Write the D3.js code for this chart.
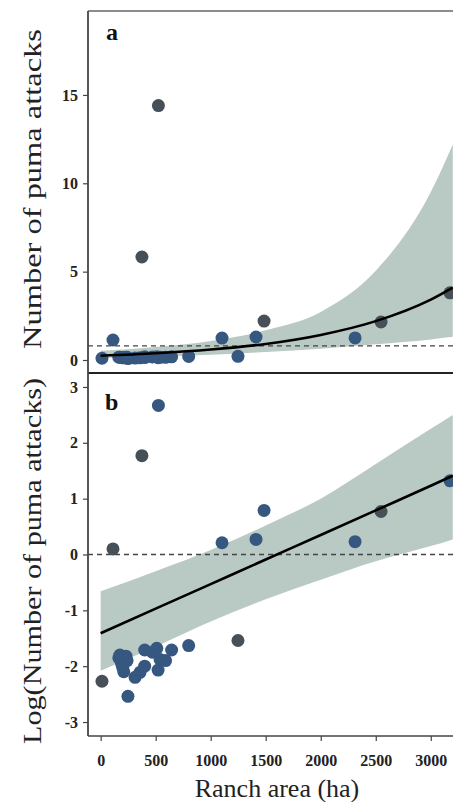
<!DOCTYPE html>
<html>
<head>
<meta charset="utf-8">
<script src="https://cdn.jsdelivr.net/npm/d3@7"></script>
<style>
  body { margin: 0; background: #fff; }
  svg text { font-family: "Liberation Serif", "Times New Roman", Times, serif; }
  .tick text { font-family: "Liberation Serif", "Times New Roman", Times, serif; font-weight: bold; font-size: 16px; fill: #222; }
  .tick line { stroke: #444; stroke-width: 1.2; }
</style>
</head>
<body>
<div id="chart"></div>
<script>
// data --------------------------------------------------------------------------------

// ranch area (ha) of each ranch
var area = [12, 112, 375, 525, 1103, 1412, 1485, 2312, 2548, 3175, 1248, 800, 645, 510, 400,
            540, 522, 400, 358, 313, 248, 165, 190, 210, 175, 230, 200, 240, 470, 590];
// panel a: number of puma attacks
var attacks = [0.10, 1.13, 5.83, 14.4, 1.24, 1.30, 2.20, 1.25, 2.15, 3.80, 0.21, 0.20, 0.18, 0.19, 0.18,
               0.15, 0.13, 0.135, 0.12, 0.11, 0.08, 0.16, 0.14, 0.12, 0.16, 0.16, 0.13, 0.15, 0.17, 0.15];
// panel b: log(number of puma attacks)
var logAttacks = [-2.27, 0.10, 1.77, 2.67, 0.21, 0.27, 0.79, 0.23, 0.77, 1.32, -1.54, -1.63, -1.71, -1.68, -1.71,
                  -1.88, -2.07, -2.00, -2.11, -2.20, -2.54, -1.85, -1.95, -2.10, -1.80, -1.82, -2.02, -1.90, -1.75, -1.90];
// point shade group (0 = blue, 1 = dark grey) in each panel
var groupA = [0, 0, 1, 1, 0, 0, 1, 0, 1, 1, 0, 0, 0, 0, 0, 0, 0, 0, 0, 0, 0, 0, 0, 0, 0, 0, 0, 0, 0, 0];
var groupB = [1, 1, 1, 0, 0, 0, 0, 0, 1, 0, 1, 0, 0, 0, 0, 0, 0, 0, 0, 0, 0, 0, 0, 0, 0, 0, 0, 0, 0, 0];

// fitted model and confidence band
var fitArea = [0, 500, 1000, 1500, 2000, 2500, 3000, 3200];
var fitCount = [0.24, 0.38, 0.59, 0.91, 1.42, 2.20, 3.42, 4.10];
var bandCountLow = [0.125, 0.19, 0.30, 0.45, 0.64, 0.89, 1.16, 1.31];
var bandCountHigh = [0.52, 0.74, 1.08, 1.68, 2.72, 5.05, 9.5, 12.2];
var fitLog = [-1.41, -0.97, -0.53, -0.09, 0.35, 0.79, 1.23, 1.41];
var bandLogLow = [-2.08, -1.65, -1.20, -0.80, -0.45, -0.12, 0.15, 0.27];
var bandLogHigh = [-0.66, -0.30, 0.08, 0.52, 1.00, 1.62, 2.25, 2.50];

var refCount = 0.8;   // dashed reference, panel a
var refLog = 0;       // dashed reference, panel b

var xTicks = [0, 500, 1000, 1500, 2000, 2500, 3000];
var yTicksA = [0, 5, 10, 15];
var yTicksB = [-3, -2, -1, 0, 1, 2, 3];

// layout ------------------------------------------------------------------------------
var width = 453, height = 802;
var left = 88, right = 453;
var topA = 11, bottomA = 373, topB = 373, bottomB = 736;

var svg = d3.select("#chart").append("svg")
  .attr("width", width)
  .attr("height", height);

svg.append("rect").attr("width", width).attr("height", height).attr("fill", "#fff");

var x = d3.scaleLinear().domain([-115, 3202]).range([left, right]);
var yA = d3.scaleLinear().domain([-0.736, 19.75]).range([bottomA, topA]);
var yB = d3.scaleLinear().domain([-3.25, 3.25]).range([bottomB, topB]);

var defs = svg.append("defs");
defs.append("clipPath").attr("id", "clipA").append("rect")
  .attr("x", left).attr("y", topA).attr("width", right - left).attr("height", bottomA - topA);
defs.append("clipPath").attr("id", "clipB").append("rect")
  .attr("x", left).attr("y", topB).attr("width", right - left).attr("height", bottomB - topB);

var blue = "#36577f", dark = "#474f57", bandFill = "#b9c9c4";

function drawPanel(clipId, y, fit, lo, hi, ref, ys, groups) {
  var g = svg.append("g").attr("clip-path", "url(#" + clipId + ")");

  var band = d3.area()
    .x(function(d, i) { return x(fitArea[i]); })
    .y0(function(d, i) { return y(lo[i]); })
    .y1(function(d, i) { return y(hi[i]); })
    .curve(d3.curveMonotoneX);

  g.append("path").datum(fitArea)
    .attr("d", band)
    .attr("fill", bandFill);

  g.append("line")
    .attr("x1", left).attr("x2", right)
    .attr("y1", y(ref)).attr("y2", y(ref))
    .attr("stroke", "#444")
    .attr("stroke-width", 1.3)
    .attr("stroke-dasharray", "5,4");

  g.selectAll("circle.pt")
    .data(area)
    .enter()
    .append("circle")
    .attr("class", "pt")
    .attr("cx", function(d) { return x(d); })
    .attr("cy", function(d, i) { return y(ys[i]); })
    .attr("r", 6.5)
    .attr("fill", function(d, i) { return groups[i] ? dark : blue; });

  var line = d3.line()
    .x(function(d, i) { return x(fitArea[i]); })
    .y(function(d, i) { return y(fit[i]); })
    .curve(d3.curveMonotoneX);

  g.append("path").datum(fitArea)
    .attr("d", line)
    .attr("fill", "none")
    .attr("stroke", "#000")
    .attr("stroke-width", 2.6);
}

drawPanel("clipA", yA, fitCount, bandCountLow, bandCountHigh, refCount, attacks, groupA);
drawPanel("clipB", yB, fitLog, bandLogLow, bandLogHigh, refLog, logAttacks, groupB);

// axes --------------------------------------------------------------------------------
function fmt(d) { return String(d); }

svg.append("g")
  .attr("transform", "translate(" + left + ",0)")
  .call(d3.axisLeft(yA).tickValues(yTicksA).tickSize(5).tickPadding(5).tickFormat(fmt))
  .call(function(g) { g.select(".domain").remove(); });

svg.append("g")
  .attr("transform", "translate(" + left + ",0)")
  .call(d3.axisLeft(yB).tickValues(yTicksB).tickSize(5).tickPadding(5).tickFormat(fmt))
  .call(function(g) { g.select(".domain").remove(); });

svg.append("g")
  .attr("transform", "translate(0," + bottomB + ")")
  .call(d3.axisBottom(x).tickValues(xTicks).tickSize(5).tickPadding(14).tickFormat(fmt))
  .call(function(g) { g.select(".domain").remove(); });

// frame lines
svg.append("line").attr("x1", left).attr("x2", right).attr("y1", topA).attr("y2", topA)
  .attr("stroke", "#666").attr("stroke-width", 1.6);
svg.append("line").attr("x1", left).attr("x2", right).attr("y1", bottomA).attr("y2", bottomA)
  .attr("stroke", "#222").attr("stroke-width", 2);
svg.append("line").attr("x1", left).attr("x2", right).attr("y1", bottomB).attr("y2", bottomB)
  .attr("stroke", "#444").attr("stroke-width", 1.6);
svg.append("line").attr("x1", left).attr("x2", left).attr("y1", topA).attr("y2", bottomB)
  .attr("stroke", "#444").attr("stroke-width", 1.8);

// panel letters
svg.append("text").attr("x", 106).attr("y", 40)
  .attr("font-size", 24).attr("font-weight", "bold").attr("fill", "#111").text("a");
svg.append("text").attr("x", 105).attr("y", 410)
  .attr("font-size", 24).attr("font-weight", "bold").attr("fill", "#111").text("b");

// axis titles
svg.append("text")
  .attr("transform", "translate(41,189) rotate(-90)")
  .attr("text-anchor", "middle")
  .attr("font-size", 26)
  .attr("fill", "#222")
  .attr("textLength", 320)
  .attr("lengthAdjust", "spacingAndGlyphs")
  .text("Number of puma attacks");

svg.append("text")
  .attr("transform", "translate(41,561) rotate(-90)")
  .attr("text-anchor", "middle")
  .attr("font-size", 26)
  .attr("fill", "#222")
  .attr("textLength", 366)
  .attr("lengthAdjust", "spacingAndGlyphs")
  .text("Log(Number of puma attacks)");

svg.append("text")
  .attr("x", 277).attr("y", 797)
  .attr("text-anchor", "middle")
  .attr("font-size", 26)
  .attr("fill", "#222")
  .text("Ranch area (ha)");
</script>
</body>
</html>
